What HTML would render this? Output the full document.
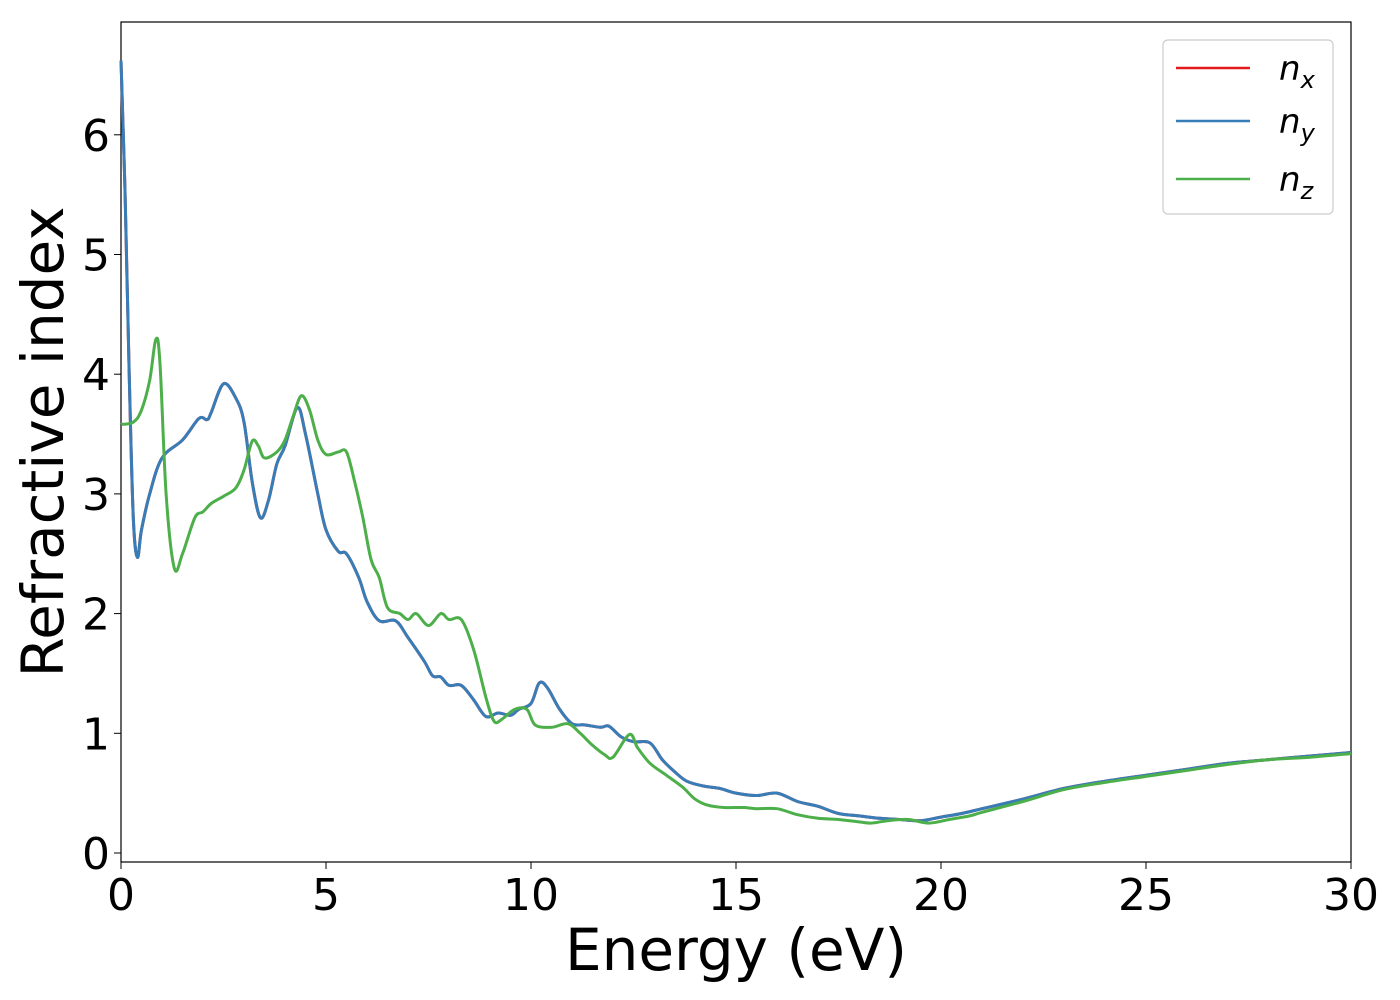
<!DOCTYPE html>
<html><head><meta charset="utf-8"><style>
html,body{margin:0;padding:0;background:#fff;}
svg{display:block;font-family:"DejaVu Sans","Liberation Sans",sans-serif;}
</style></head><body>
<svg id="chart" width="1400" height="1000">
<rect x="121" y="22" width="1230" height="840" fill="#fff" stroke="#000" stroke-width="1.2"/>
<g id="ticks"></g>
<g id="series"></g>
<text x="736" y="970" font-size="58" text-anchor="middle">Energy (eV)</text>
<text transform="translate(63,442) rotate(-90)" font-size="58" text-anchor="middle">Refractive index</text>
<g>
<rect x="1163" y="40" width="170" height="174" rx="5" fill="#fff" stroke="#ccc" stroke-width="1.2"/>
<line x1="1176" y1="68" x2="1250" y2="68" stroke="#e41a1c" stroke-width="2.5"/>
<text x="1279" y="80" font-size="34" font-style="italic">n<tspan font-size="24" dy="8">x</tspan></text>
<line x1="1176" y1="121" x2="1250" y2="121" stroke="#377eb8" stroke-width="2.5"/>
<text x="1279" y="133" font-size="34" font-style="italic">n<tspan font-size="24" dy="8">y</tspan></text>
<line x1="1176" y1="179" x2="1250" y2="179" stroke="#4daf4a" stroke-width="2.5"/>
<text x="1279" y="191" font-size="34" font-style="italic">n<tspan font-size="24" dy="8">z</tspan></text>
</g>
</svg>
<script>
const xTicks=[0,5,10,15,20,25,30];
const yTicks=[0,1,2,3,4,5,6];
const energyXY=[0,0.1,0.2,0.3,0.4,0.5,0.7,1.0,1.5,1.9,2.1,2.2,2.5,2.8,3.0,3.2,3.4,3.6,3.8,4.0,4.3,4.5,4.8,5.0,5.3,5.5,5.8,6.0,6.3,6.7,7.0,7.4,7.6,7.8,8.0,8.3,8.6,8.9,9.2,9.5,9.7,10.0,10.2,10.4,10.7,11.0,11.3,11.7,11.9,12.2,12.5,12.9,13.2,13.5,13.8,14.2,14.6,15.0,15.5,16.0,16.5,17.0,17.5,18.0,18.5,19.0,19.5,20.0,20.5,21,22,23,24,25,26,27,28,29,30];
const nxValues=[6.62,5.5,4.0,2.8,2.47,2.7,3.0,3.3,3.45,3.63,3.62,3.68,3.92,3.8,3.6,3.1,2.8,2.95,3.25,3.4,3.72,3.5,3.0,2.7,2.52,2.5,2.3,2.1,1.94,1.94,1.8,1.6,1.48,1.47,1.4,1.4,1.28,1.14,1.17,1.15,1.2,1.25,1.42,1.38,1.2,1.08,1.07,1.05,1.06,0.97,0.93,0.92,0.78,0.68,0.6,0.56,0.54,0.5,0.48,0.5,0.43,0.39,0.33,0.31,0.29,0.28,0.27,0.3,0.33,0.37,0.45,0.54,0.6,0.65,0.7,0.75,0.78,0.81,0.84];
const nyValues=nxValues.slice();
const energyZ=[0,0.3,0.5,0.7,0.85,0.95,1.1,1.3,1.5,1.8,2.0,2.2,2.5,2.8,3.0,3.2,3.35,3.5,3.8,4.0,4.2,4.4,4.6,4.8,5.0,5.3,5.5,5.7,5.9,6.1,6.3,6.5,6.8,7.0,7.2,7.5,7.8,8.0,8.3,8.6,8.9,9.1,9.3,9.6,9.9,10.1,10.5,10.9,11.2,11.5,11.8,12.0,12.4,12.6,12.9,13.3,13.7,14.0,14.3,14.7,15.2,15.5,16,16.5,17,17.5,18,18.3,18.7,19.2,19.7,20.2,20.7,21,22,23,24,25,26,27,28,29,30];
const nzValues=[3.58,3.6,3.7,3.95,4.29,4.1,3.0,2.38,2.5,2.8,2.85,2.92,2.98,3.05,3.2,3.44,3.4,3.3,3.35,3.45,3.65,3.82,3.7,3.45,3.33,3.35,3.35,3.1,2.8,2.45,2.3,2.05,2.0,1.95,2.0,1.9,2.0,1.95,1.95,1.7,1.3,1.1,1.12,1.2,1.2,1.07,1.05,1.08,1.0,0.9,0.82,0.8,0.99,0.88,0.75,0.65,0.55,0.45,0.4,0.38,0.38,0.37,0.37,0.32,0.29,0.28,0.26,0.25,0.27,0.28,0.25,0.28,0.31,0.34,0.43,0.53,0.59,0.64,0.69,0.74,0.78,0.8,0.83];

const NS='http://www.w3.org/2000/svg';
const xS=v=>121+v*41;
const yS=v=>853-v*119.7;
const tg=document.getElementById('ticks');
xTicks.forEach(t=>{
  const l=document.createElementNS(NS,'line');
  l.setAttribute('x1',xS(t));l.setAttribute('x2',xS(t));l.setAttribute('y1',862);l.setAttribute('y2',869);l.setAttribute('stroke','#000');
  
  
  tg.appendChild(l);
  const tx=document.createElementNS(NS,'text');
  tx.setAttribute('x',xS(t));tx.setAttribute('y',910);tx.setAttribute('font-size','44');tx.setAttribute('text-anchor','middle');
  tx.textContent=t;
  
  
  tg.appendChild(tx);
});
yTicks.forEach(t=>{
  const l=document.createElementNS(NS,'line');
  l.setAttribute('x1',114);l.setAttribute('x2',121);l.setAttribute('y1',yS(t));l.setAttribute('y2',yS(t));l.setAttribute('stroke','#000');
  
  
  tg.appendChild(l);
  const tx=document.createElementNS(NS,'text');
  tx.setAttribute('x',110);tx.setAttribute('y',yS(t)+16);tx.setAttribute('font-size','44');tx.setAttribute('text-anchor','end');
  tx.textContent=t;
  
  
  tg.appendChild(tx);
});
const sg=document.getElementById('series');
function draw(xs,ys,color,name){
  const pts=xs.map((x,i)=>[xS(x),yS(ys[i])]);
  let d='M'+pts[0][0].toFixed(1)+','+pts[0][1].toFixed(1);
  for(let i=0;i<pts.length-1;i++){
    const p0=pts[Math.max(0,i-1)],p1=pts[i],p2=pts[i+1],p3=pts[Math.min(pts.length-1,i+2)];
    const c1=[p1[0]+(p2[0]-p0[0])/6,p1[1]+(p2[1]-p0[1])/6];
    const c2=[p2[0]-(p3[0]-p1[0])/6,p2[1]-(p3[1]-p1[1])/6];
    d+=' C'+c1[0].toFixed(1)+','+c1[1].toFixed(1)+' '+c2[0].toFixed(1)+','+c2[1].toFixed(1)+' '+p2[0].toFixed(1)+','+p2[1].toFixed(1);
  }
  const p=document.createElementNS(NS,'path');
  p.setAttribute('d',d);
  p.setAttribute('fill','none');p.setAttribute('stroke',color);p.setAttribute('stroke-width','3');p.setAttribute('stroke-linejoin','round');
  
  
  sg.appendChild(p);
}
draw(energyXY,nxValues,'#e41a1c','series-nx');
draw(energyXY,nyValues,'#377eb8','series-ny');
draw(energyZ,nzValues,'#4daf4a','series-nz');
</script>
</body></html>
